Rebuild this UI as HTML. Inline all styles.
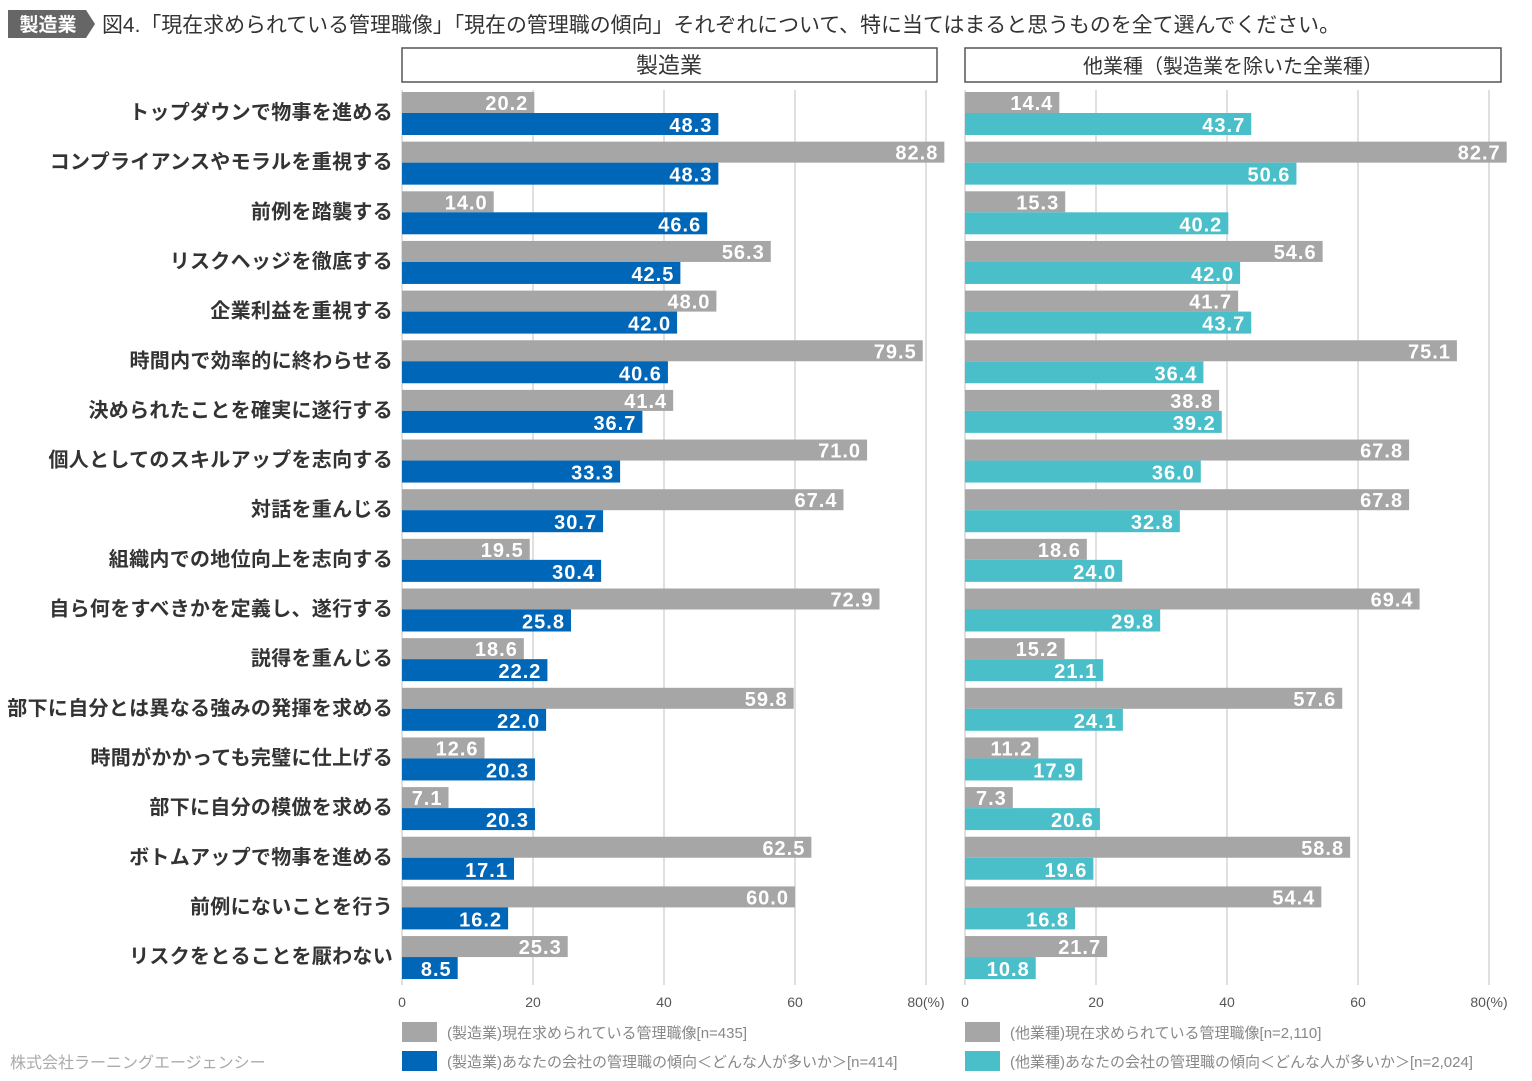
<!DOCTYPE html>
<html><head><meta charset="utf-8"><style>
body{margin:0;background:#fff;width:1532px;height:1081px;overflow:hidden}
svg{display:block}
text{font-family:"Liberation Sans","Noto Sans CJK JP",sans-serif}
.val{font-family:"Liberation Sans Narrow","Liberation Sans","Noto Sans CJK JP",sans-serif;font-weight:bold;font-size:20px;fill:#fff;letter-spacing:1px}
.cat{font-weight:bold;font-size:20px;fill:#333;letter-spacing:0.3px}
.tick{font-size:14px;fill:#555}
.leg{font-size:15px;fill:#888}
</style></head><body>
<svg id="c" width="1532" height="1081" xmlns="http://www.w3.org/2000/svg">
<g>
<path d="M8,10 H86 L95,24 L86,38 H8 Z" fill="#666"/>
<text x="48" y="31" text-anchor="middle" font-size="19" font-weight="bold" fill="#fff">製造業</text>
<text x="102" y="32" font-size="21" fill="#333" textLength="1238" lengthAdjust="spacingAndGlyphs">図4.「現在求められている管理職像」「現在の管理職の傾向」それぞれについて、特に当てはまると思うものを全て選んでください。</text>
</g>
<rect x="402" y="48" width="535" height="34" fill="#fff" stroke="#555" stroke-width="1.5"/>
<text x="669" y="73" text-anchor="middle" font-size="22" fill="#333">製造業</text>
<rect x="965" y="48" width="536" height="34" fill="#fff" stroke="#555" stroke-width="1.5"/>
<text x="1233" y="73" text-anchor="middle" font-size="20" fill="#333">他業種（製造業を除いた全業種）</text>
<text x="10" y="1068" font-size="16" fill="#aaa">株式会社ラーニングエージェンシー</text>
</svg>
<script>
const categories=["トップダウンで物事を進める","コンプライアンスやモラルを重視する","前例を踏襲する","リスクヘッジを徹底する","企業利益を重視する","時間内で効率的に終わらせる","決められたことを確実に遂行する","個人としてのスキルアップを志向する","対話を重んじる","組織内での地位向上を志向する","自ら何をすべきかを定義し、遂行する","説得を重んじる","部下に自分とは異なる強みの発揮を求める","時間がかかっても完璧に仕上げる","部下に自分の模倣を求める","ボトムアップで物事を進める","前例にないことを行う","リスクをとることを厭わない"];
const mfgIdeal=[20.2,82.8,14.0,56.3,48.0,79.5,41.4,71.0,67.4,19.5,72.9,18.6,59.8,12.6,7.1,62.5,60.0,25.3];
const mfgTrend=[48.3,48.3,46.6,42.5,42.0,40.6,36.7,33.3,30.7,30.4,25.8,22.2,22.0,20.3,20.3,17.1,16.2,8.5];
const othIdeal=[14.4,82.7,15.3,54.6,41.7,75.1,38.8,67.8,67.8,18.6,69.4,15.2,57.6,11.2,7.3,58.8,54.4,21.7];
const othTrend=[43.7,50.6,40.2,42.0,43.7,36.4,39.2,36.0,32.8,24.0,29.8,21.1,24.1,17.9,20.6,19.6,16.8,10.8];
const ticks=[0,20,40,60,80];
const tickLabels=["0","20","40","60","80(%)"];
const legendLeft=["(製造業)現在求められている管理職像[n=435]","(製造業)あなたの会社の管理職の傾向＜どんな人が多いか＞[n=414]"];
const legendRight=["(他業種)現在求められている管理職像[n=2,110]","(他業種)あなたの会社の管理職の傾向＜どんな人が多いか＞[n=2,024]"];

const svg=document.getElementById('c');
const NS='http://www.w3.org/2000/svg';
const K=6.55, TOP=92, PITCH=49.65;
function xs(x0){return v=>x0+v*K;}
function yRow(i){return TOP+i*PITCH;}
function mk(tag,a,txt){const e=document.createElementNS(NS,tag);for(const k in a)e.setAttribute(k,a[k]);if(txt!=null)e.textContent=txt;svg.appendChild(e);return e;}

function panel(x0,ideal,trend,color,key,legend){
  const x=xs(x0);
  ticks.forEach((t,i)=>{
    const l=mk('line',{x1:x(t),x2:x(t),y1:90,y2:985,stroke:'#ccc','stroke-width':1.2});
    
    
    const tx=mk('text',{x:x(t),y:1007,'text-anchor':'middle',class:'tick'},tickLabels[i]);
    
    
  });
  categories.forEach((c,i)=>{
    const y=yRow(i);
    const r1=mk('rect',{x:x0,y:y,width:x(ideal[i])-x0,height:21,fill:'#a6a6a6'});
    
    
    const t1=mk('text',{x:x(ideal[i])-6,y:y+18,'text-anchor':'end',class:'val'},ideal[i].toFixed(1));
    
    
    const r2=mk('rect',{x:x0,y:y+21,width:x(trend[i])-x0,height:22,fill:color});
    
    
    const t2=mk('text',{x:x(trend[i])-6,y:y+40,'text-anchor':'end',class:'val'},trend[i].toFixed(1));
    
    
  });
  [['#a6a6a6',1022],[color,1051]].forEach((s,j)=>{
    const r=mk('rect',{x:x0,y:s[1],width:35,height:20,fill:s[0]});
    
    
    const t=mk('text',{x:x0+45,y:s[1]+16,class:'leg'},legend[j]);
    
    
  });
}
categories.forEach((c,i)=>{
  const t=mk('text',{x:393,y:yRow(i)+27,'text-anchor':'end',class:'cat'},c);
  
  
});
panel(402,mfgIdeal,mfgTrend,'#0066b8','manufacturing',legendLeft);
panel(965,othIdeal,othTrend,'#4bbfc9','other-industries',legendRight);
</script>
</body></html>
